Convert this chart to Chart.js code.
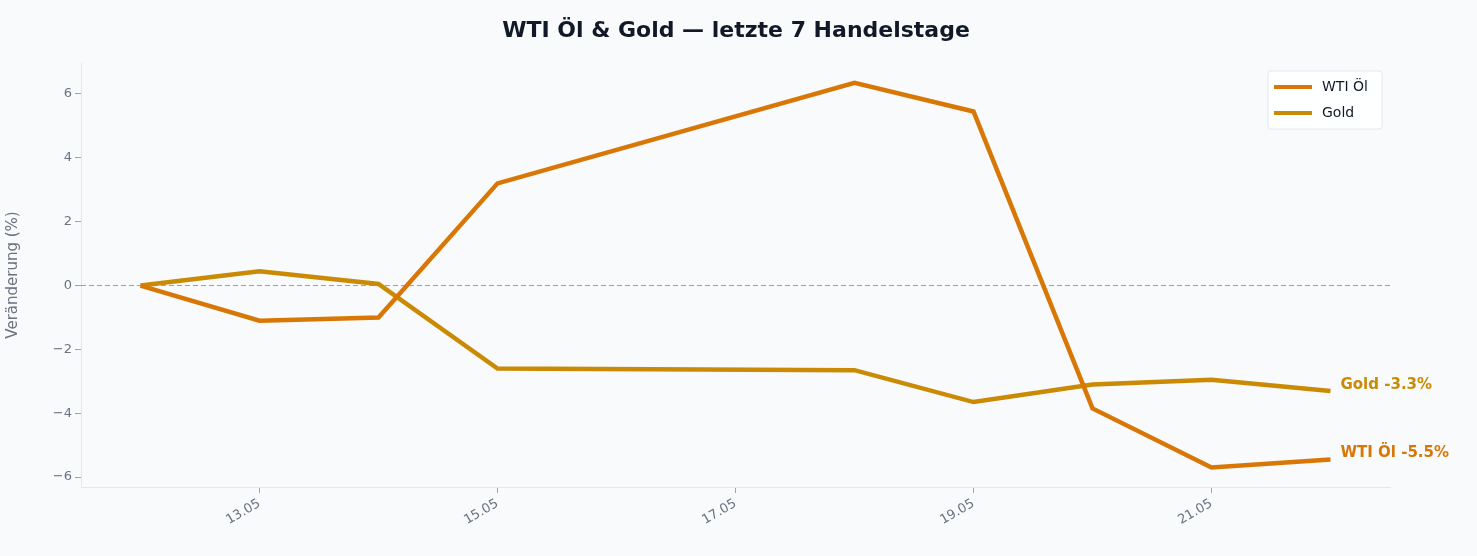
<!DOCTYPE html>
<html><head><meta charset="utf-8">
<script src="https://cdn.jsdelivr.net/npm/chart.js@4"></script>
<style>html,body{margin:0;background:#f8fafc}#wrap{width:1477px;height:556px}</style>
</head><body><div id="wrap"><canvas id="c"></canvas></div>
<script>
// day of May for each trading day
const days = [12, 13, 14, 15, 18, 19, 20, 21, 22];
const tickDays = [13, 15, 17, 19, 21];
const wtiValues = [0, -1.1, -1.0, 3.2, 6.35, 5.45, -3.85, -5.7, -5.45];
const goldValues = [0, 0.45, 0.05, -2.6, -2.65, -3.65, -3.1, -2.95, -3.3];
const seriesNames = ['WTI Öl', 'Gold'];
const seriesColors = ['#d97706', '#ca8a04'];

const toPoints = vals => vals.map((v, i) => ({ x: days[i], y: v }));

const extras = {
    id: 'extras',
    beforeDatasetsDraw(chart) {
        const { ctx, chartArea, scales } = chart;
        const y0 = scales.y.getPixelForValue(0);
        ctx.save();
        ctx.fillStyle = '#111827';
        ctx.font = 'bold 22px "DejaVu Sans"';
        ctx.textAlign = 'center';
        ctx.textBaseline = 'middle';
        ctx.fillText('WTI Öl & Gold — letzte 7 Handelstage', 736, 31);
        ctx.strokeStyle = '#94a3b8';
        ctx.lineWidth = 1;
        ctx.setLineDash([5, 3]);
        ctx.beginPath();
        ctx.moveTo(chartArea.left, y0);
        ctx.lineTo(chartArea.right, y0);
        ctx.stroke();
        ctx.restore();
    },
    afterDatasetsDraw(chart) {
        const { ctx, chartArea } = chart;
        ctx.save();
        ctx.font = 'bold 15px "DejaVu Sans"';
        ctx.textBaseline = 'middle';
        chart.data.datasets.forEach((ds, i) => {
            const meta = chart.getDatasetMeta(i);
            const last = meta.data[meta.data.length - 1];
            const v = ds.data[ds.data.length - 1].y;
            ctx.fillStyle = seriesColors[i];
            ctx.fillText(seriesNames[i] + ' ' + v.toFixed(1) + '%', last.x + 10, last.y - 6);
        });
        const bx = chartArea.right - 122, by = chartArea.top + 8, bw = 114, bh = 58;
        ctx.fillStyle = 'rgba(255,255,255,0.85)';
        ctx.strokeStyle = '#e2e8f0';
        ctx.lineWidth = 1;
        ctx.beginPath();
        ctx.roundRect(bx, by, bw, bh, 3);
        ctx.fill();
        ctx.stroke();
        ctx.font = '14px "DejaVu Sans"';
        seriesNames.forEach((n, i) => {
            const ly = by + 16 + i * 26;
            ctx.strokeStyle = seriesColors[i];
            ctx.lineWidth = 4;
            ctx.beginPath();
            ctx.moveTo(bx + 6, ly);
            ctx.lineTo(bx + 44, ly);
            ctx.stroke();
            ctx.fillStyle = '#111827';
            ctx.fillText(n, bx + 54, ly);
        });
        ctx.restore();
    }
};

new Chart(document.getElementById('c'), {
    type: 'line',
    data: {
        datasets: seriesNames.map((n, i) => ({
            label: n,
            data: toPoints(i === 0 ? wtiValues : goldValues),
            borderColor: seriesColors[i],
            borderWidth: 4.5,
            pointRadius: 0,
            tension: 0
        }))
    },
    options: {
        responsive: true,
        maintainAspectRatio: false,
        animation: false,
        layout: { padding: { left: 0, right: 87, top: 63, bottom: 0 } },
        plugins: {
            legend: { display: false },
            tooltip: { enabled: false }
        },
        scales: {
            x: {
                type: 'linear',
                min: 11.5,
                max: 22.5,
                afterBuildTicks(axis) { axis.ticks = tickDays.map(d => ({ value: d })); },
                afterFit(axis) { axis.height = 69; },
                ticks: {
                    color: '#6b7280',
                    font: { family: 'DejaVu Sans', size: 13 },
                    maxRotation: 30, minRotation: 30,
                    callback: v => String(v).padStart(2, '0') + '.05'
                },
                grid: { display: true, drawOnChartArea: false, tickLength: 6, color: '#9ca3af' },
                border: { color: '#e5e7eb' }
            },
            y: {
                min: -6.31,
                max: 6.97,
                afterBuildTicks(axis) { axis.ticks = [-6, -4, -2, 0, 2, 4, 6].map(v => ({ value: v })); },
                afterFit(axis) { axis.width = 81; },
                ticks: {
                    color: '#6b7280',
                    font: { family: 'DejaVu Sans', size: 13 },
                    callback: v => v < 0 ? '−' + Math.abs(v) : String(v)
                },
                grid: { display: true, drawOnChartArea: false, tickLength: 6, color: '#9ca3af' },
                border: { color: '#e5e7eb' },
                title: {
                    display: true,
                    text: 'Veränderung (%)',
                    color: '#6b7280',
                    font: { family: 'DejaVu Sans', size: 15 }
                }
            }
        }
    },
    plugins: [extras]
});
</script></body></html>
